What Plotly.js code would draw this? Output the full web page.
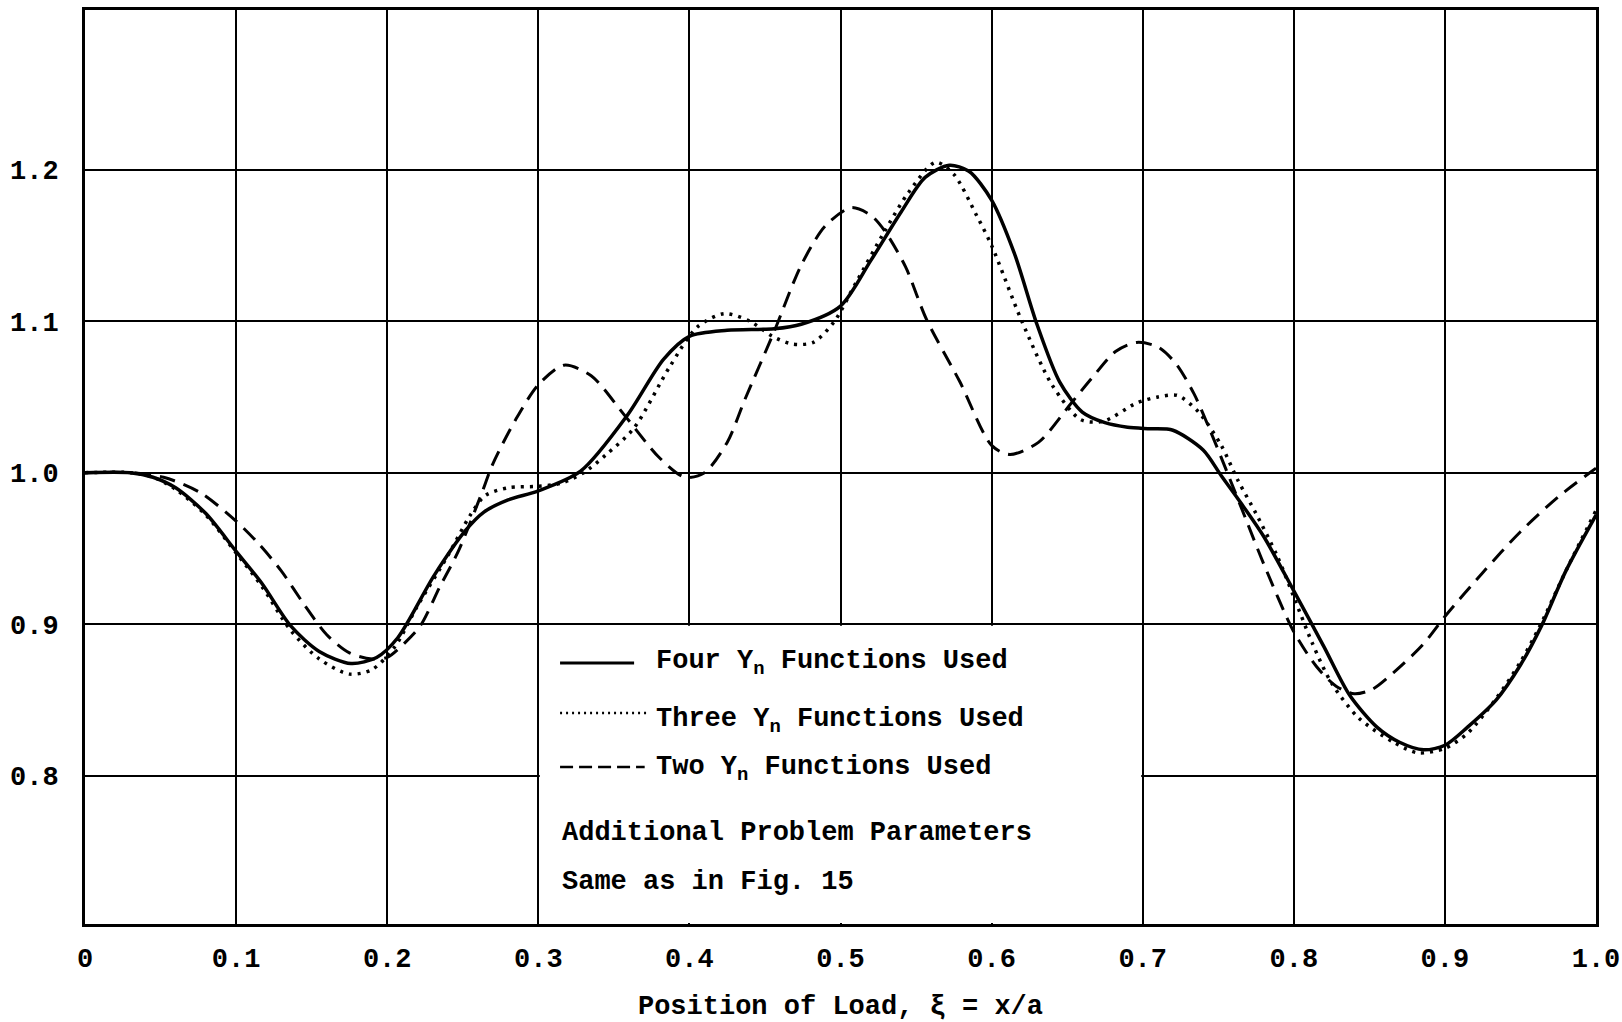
<!DOCTYPE html>
<html>
<head>
<meta charset="utf-8">
<script src="https://cdn.plot.ly/plotly-3.0.1.min.js"></script>
<style>
  html, body { margin: 0; padding: 0; background: #ffffff; }
  #chart { width: 1622px; height: 1022px; }
</style>
</head>
<body>
<div id="chart"></div>
<script>
// Influence curves vs. load position for different numbers of Y_n functions
const xFour = [0, 0.03, 0.045, 0.06, 0.08, 0.1, 0.117, 0.136, 0.155, 0.176, 0.193, 0.207, 0.231, 0.252, 0.264, 0.28, 0.3, 0.328, 0.359, 0.383, 0.4, 0.425, 0.456, 0.474, 0.5, 0.52, 0.54, 0.556, 0.572, 0.585, 0.6, 0.615, 0.63, 0.645, 0.66, 0.675, 0.69, 0.705, 0.72, 0.74, 0.752, 0.765, 0.78, 0.8, 0.82, 0.837, 0.855, 0.87, 0.886, 0.9, 0.915, 0.934, 0.95, 0.964, 0.98, 1.0];
const yFour = [1.0, 1.0, 0.997, 0.99, 0.973, 0.948, 0.927, 0.899, 0.882, 0.874, 0.878, 0.891, 0.932, 0.962, 0.974, 0.982, 0.988, 1.001, 1.038, 1.075, 1.09, 1.094, 1.095, 1.098, 1.11, 1.14, 1.172, 1.195, 1.203, 1.199, 1.18, 1.145, 1.098, 1.06, 1.04, 1.033, 1.03, 1.029, 1.028, 1.015, 0.998, 0.98, 0.958, 0.922, 0.885, 0.853, 0.832, 0.822, 0.817, 0.82, 0.832, 0.85, 0.873, 0.899, 0.935, 0.972];

const xThree = [0, 0.03, 0.045, 0.06, 0.08, 0.1, 0.117, 0.136, 0.155, 0.175, 0.19, 0.205, 0.22, 0.24, 0.255, 0.265, 0.28, 0.3, 0.315, 0.33, 0.345, 0.363, 0.387, 0.405, 0.423, 0.44, 0.455, 0.468, 0.482, 0.496, 0.51, 0.529, 0.545, 0.563, 0.575, 0.59, 0.6, 0.62, 0.64, 0.659, 0.674, 0.696, 0.71, 0.723, 0.737, 0.752, 0.763, 0.775, 0.789, 0.8, 0.812, 0.825, 0.843, 0.866, 0.882, 0.9, 0.915, 0.934, 0.95, 0.963, 0.98, 1.0];
const yThree = [1.0, 1.0, 0.997, 0.989, 0.972, 0.947, 0.925, 0.896, 0.877, 0.867, 0.87, 0.885, 0.912, 0.945, 0.972, 0.985, 0.99, 0.991, 0.993, 1.0, 1.012, 1.029, 1.07, 1.096, 1.105, 1.1, 1.09, 1.085, 1.086, 1.1, 1.125, 1.159, 1.185, 1.205, 1.197, 1.17, 1.15, 1.1, 1.058, 1.035, 1.034, 1.046, 1.05, 1.051, 1.04, 1.018, 0.995, 0.973, 0.945, 0.918, 0.888, 0.861, 0.838, 0.822, 0.815, 0.818, 0.828, 0.851, 0.875, 0.899, 0.935, 0.975];

const xTwo = [0, 0.03, 0.052, 0.076, 0.1, 0.115, 0.13, 0.145, 0.16, 0.175, 0.19, 0.2, 0.212, 0.222, 0.235, 0.247, 0.262, 0.27, 0.285, 0.3, 0.317, 0.335, 0.357, 0.38, 0.397, 0.41, 0.425, 0.437, 0.456, 0.474, 0.49, 0.507, 0.52, 0.529, 0.543, 0.557, 0.579, 0.6, 0.612, 0.631, 0.652, 0.666, 0.682, 0.696, 0.71, 0.722, 0.734, 0.745, 0.756, 0.768, 0.78, 0.8, 0.815, 0.828, 0.84, 0.852, 0.866, 0.885, 0.9, 0.925, 0.95, 0.975, 1.0];
const yTwo = [1.0, 1.0, 0.997, 0.987, 0.968, 0.953, 0.935, 0.913, 0.893, 0.881, 0.877, 0.878, 0.888, 0.899, 0.925, 0.948, 0.985, 1.006, 1.035, 1.058, 1.071, 1.064, 1.038, 1.01, 0.997, 1.0, 1.02, 1.049, 1.093, 1.137, 1.163, 1.175, 1.17, 1.16, 1.136, 1.101, 1.06, 1.018, 1.012, 1.02, 1.045, 1.062, 1.08, 1.086, 1.083, 1.072, 1.052, 1.027, 1.0, 0.97, 0.94, 0.895, 0.872, 0.859, 0.854, 0.857, 0.868, 0.886, 0.905, 0.934, 0.961, 0.984, 1.003];

const seriesNames = ['Four Y<sub>n</sub> Functions Used', 'Three Y<sub>n</sub> Functions Used', 'Two Y<sub>n</sub> Functions Used'];
const noteLines = ['Additional Problem Parameters', 'Same as in Fig. 15'];

const xTickVals = [0, 0.1, 0.2, 0.3, 0.4, 0.5, 0.6, 0.7, 0.8, 0.9, 1.0];
const xTickText = ['0', '0.1', '0.2', '0.3', '0.4', '0.5', '0.6', '0.7', '0.8', '0.9', '1.0'];
const yTickVals = [0.8, 0.9, 1.0, 1.1, 1.2];
const yTickText = ['0.8', '0.9', '1.0', '1.1', '1.2'];

const xTitle = 'Position of Load, \u03BE = x/a';

// ---- styling ----
const FONT = { family: 'Liberation Mono, Courier New, monospace', size: 27, color: '#000', weight: 'bold' };
const xRange = [0, 1];
const yRange = [0.702, 1.3055];
const dashStyles = ['solid', '3px,6px', '16px,9px'];
const lineWidths = [3.5, 3.5, 3];

const seriesX = [xFour, xThree, xTwo];
const seriesY = [yFour, yThree, yTwo];

const traces = seriesX.map((xs, i) => ({
  type: 'scatter',
  mode: 'lines',
  x: xs,
  y: seriesY[i],
  name: seriesNames[i],
  showlegend: false,
  line: { color: '#000', width: lineWidths[i], dash: dashStyles[i], shape: 'spline', smoothing: 0.8 },
  hoverinfo: 'skip'
}));

// Key block: white panel between the 0.3 and 0.7 grid lines below 0.9
const yPx = (yRange[1] - yRange[0]) / 914;   // data units per pixel (y)
const xPx = (xRange[1] - xRange[0]) / 1511;  // data units per pixel (x)
const shapes = [{
  type: 'rect', layer: 'above', xref: 'x', yref: 'y',
  x0: 0.3 + 1.5 * xPx, x1: 0.7 - 1.5 * xPx,
  y0: yRange[0] + 1 * yPx, y1: 0.9 - 1.5 * yPx,
  fillcolor: '#ffffff', line: { width: 0 }
}];

// Key samples and labels (paper coordinates)
const keyX0 = 0.3144;
const keyLen = [0.049, 0.057, 0.056];
const keyLineY = [0.2856, 0.2309, 0.1718];
const keyTextX = 0.3766;
const keyTextY = [0.2855, 0.2222, 0.1692];

const annotations = [];
for (let i = 0; i < 3; i++) {
  shapes.push({
    type: 'line', layer: 'above', xref: 'paper', yref: 'paper',
    x0: keyX0, x1: keyX0 + keyLen[i], y0: keyLineY[i], y1: keyLineY[i],
    line: { color: '#000', width: i === 0 ? 3 : 2.5, dash: i === 0 ? 'solid' : (i === 1 ? '2px,4px' : '13px,6px') }
  });
  annotations.push({
    xref: 'paper', yref: 'paper', x: keyTextX, y: keyTextY[i],
    xanchor: 'left', yanchor: 'middle', showarrow: false,
    text: seriesNames[i], font: FONT
  });
}
const noteY = [0.0996, 0.046];
noteLines.forEach((t, i) => {
  annotations.push({
    xref: 'paper', yref: 'paper', x: keyX0, y: noteY[i],
    xanchor: 'left', yanchor: 'middle', showarrow: false,
    text: t, font: FONT
  });
});

const axisCommon = {
  showgrid: true, gridcolor: '#000', gridwidth: 2,
  showline: true, linecolor: '#000', linewidth: 3, mirror: true,
  zeroline: false, ticks: '', tickfont: FONT, fixedrange: true
};

const layout = {
  width: 1622, height: 1022,
  margin: { l: 85, r: 26, t: 10, b: 98 },
  paper_bgcolor: '#ffffff', plot_bgcolor: '#ffffff',
  font: FONT,
  showlegend: false,
  xaxis: Object.assign({}, axisCommon, {
    range: xRange, tickmode: 'array', tickvals: xTickVals, ticktext: xTickText,
    ticklabelstandoff: 8,
    title: { text: xTitle, font: FONT, standoff: 21 }
  }),
  yaxis: Object.assign({}, axisCommon, {
    range: yRange, tickmode: 'array', tickvals: yTickVals, ticktext: yTickText,
    ticklabelstandoff: 18
  }),
  shapes: shapes,
  annotations: annotations
};

Plotly.newPlot('chart', traces, layout, { displayModeBar: false, staticPlot: true });
</script>
</body>
</html>
